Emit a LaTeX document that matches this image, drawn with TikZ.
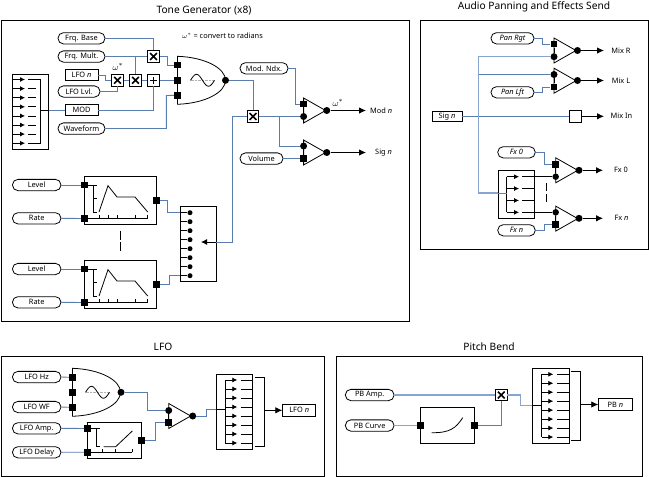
\documentclass[tikz,border=0pt]{standalone}
\usepackage{fontspec}
\setmainfont{Noto Sans}
\usetikzlibrary{arrows.meta}
\definecolor{wireblue}{HTML}{5A7DB0}
\definecolor{wirepale}{HTML}{86A5D0}
\newcommand{\lbl}{\fontsize{7.4}{9}\selectfont}
\newcommand{\ttl}{\fontsize{10.2}{12}\selectfont}
\newcommand{\omg}{\fontsize{9.5}{11}\selectfont}
\newcommand{\oscbody}[2]{%
  \begin{scope}[shift={(#1,#2)}]
    \draw[blk] (0,-24) .. controls (28,-23) and (48,-12) .. (48,0) .. controls (48,12) and (28,23) .. (0,24) -- cycle;
    \draw[gray!60,densely dotted,line width=.4pt] (13,0) -- (36,0);
    \draw[blk] (13,0) sin (19,-6) cos (25,0) sin (31,6) cos (37,0);
  \end{scope}}
\newcommand{\ampbody}[2]{\draw[blk] (#1,#2-12.5) -- (#1+22,#2) -- (#1,#2+12.5) -- cycle;}
\newcommand{\muxlines}[6]{% xstart, xtip, xlineend, ytop, dy, n-1
  \foreach \i in {0,...,#6}{
    \pgfmathsetmacro{\yy}{#4+\i*#5}
    \draw[blk,-{Latex[length=5pt,width=5pt]}] (#1,\yy) -- (#2,\yy);
    \draw[blk] (#2+3.3,\yy) -- (#3,\yy);
  }}
\newcommand{\envbody}[2]{%
  \begin{scope}[shift={(#1,#2)}]
    \draw[blk] (0,0) -- (12,0) (9,0) -- (9,27.5) -- (12.5,27.5) (9,13.5) -- (12,13.5);
    \draw[blk] (0,33.3) -- (63.2,33.3);
    \foreach \t in {14.5,23.5,32.5,50.5,63.2} \draw[blk] (\t,33.3) -- (\t,30);
    \draw[blk] (14.5,27) -- (23.5,.7) -- (32.5,12) -- (50.5,12) -- (63.2,27);
  \end{scope}}
\tikzset{
  x=1pt,y=-1pt,
  blk/.style={draw=black,line width=.8pt},
  wire/.style={draw=wireblue,line width=.9pt},
  wirep/.style={draw=wirepale,line width=1.4pt},
  frame/.style={draw=black,line width=.9pt},
  oval/.style={draw=black,line width=.8pt,fill=white,rounded corners=5.5pt,minimum height=11.3pt,inner sep=0pt,font=\lbl},
  lbox/.style={draw=black,line width=.8pt,fill=white,minimum height=11.3pt,inner sep=0pt,font=\lbl},
  sq/.style={fill=black,draw=none,minimum size=6.8pt,inner sep=0pt},
  dot/.style={circle,fill=black,draw=none,minimum size=7pt,inner sep=0pt},
  mdot/.style={circle,fill=black,draw=none,minimum size=5pt,inner sep=0pt},
  txt/.style={font=\lbl,inner sep=0pt},
  title/.style={font=\ttl,inner sep=0pt},
  mul/.style={draw=black,line width=.8pt,fill=white,minimum size=11.5pt,inner sep=0pt,
    path picture={\draw[line width=1.5pt] ([xshift=-3.4pt,yshift=-3.4pt]path picture bounding box.center) -- ([xshift=3.4pt,yshift=3.4pt]path picture bounding box.center) ([xshift=-3.4pt,yshift=3.4pt]path picture bounding box.center) -- ([xshift=3.4pt,yshift=-3.4pt]path picture bounding box.center);}},
  add/.style={draw=black,line width=.8pt,fill=white,minimum size=11.5pt,inner sep=0pt,
    path picture={\draw[line width=1.3pt] ([xshift=-3.4pt]path picture bounding box.center) -- ([xshift=3.4pt]path picture bounding box.center) ([yshift=-3.4pt]path picture bounding box.center) -- ([yshift=3.4pt]path picture bounding box.center);}},
  outarrow/.style={blk,-{Latex[length=7pt,width=6.5pt]}},
}
\begin{document}
\begin{tikzpicture}
\useasboundingbox (0,0) rectangle (649,477);
\fill[white] (0,0) rectangle (649,477);
% ---------- frames and titles
\node[frame,minimum width=408pt,minimum height=301pt,inner sep=0pt] (fTone) at (205,170.5) {};
\node[frame,minimum width=227.3pt,minimum height=229pt,inner sep=0pt] (fPan) at (534.4,134.5) {};
\node[frame,minimum width=323.7pt,minimum height=119.3pt,inner sep=0pt] (fLfo) at (162.9,416.4) {};
\node[frame,minimum width=306.7pt,minimum height=119.3pt,inner sep=0pt] (fPb) at (489.4,416.4) {};
\node[title] (tTone) at (204,11) {Tone Generator (x8)};
\node[title] (tPan) at (534,7) {Audio Panning and Effects Send};
\node[title] (tLfo) at (163,347) {LFO};
\node[title] (tPb) at (489,347) {Pitch Bend};
\node[txt] (nOmega) at (222.5,36) {$\omega^{*}$ = convert to radians};
% ---------- tone generator: inputs
\node[oval,minimum width=47pt] (frqbase) at (81.5,38.3) {Frq. Base};
\node[oval,minimum width=47pt] (frqmult) at (81.5,56.5) {Frq. Mult.};
\node[lbox,minimum width=33pt,minimum height=10.5pt] (lfon) at (81.5,75) {LFO \textit{n}};
\node[oval,minimum width=42pt] (lfolvl) at (79,91.5) {LFO Lvl.};
\node[lbox,minimum width=33pt] (mod) at (81.5,110) {MOD};
\node[oval,minimum width=47pt] (wavef) at (81.5,128.5) {Waveform};
\node[mul] (mulA) at (153.5,56.5) {};
\node[mul] (mulB) at (117.5,80.3) {};
\node[mul] (mulC) at (135.5,80.3) {};
\node[add] (addA) at (153.5,80.3) {};
\node[inner sep=0pt,font=\omg] (wA) at (118,66.5) {$\omega^{*}$};
% left mux
\node[draw=black,line width=.8pt,minimum width=36pt,minimum height=75pt,inner sep=0pt] (muxL) at (30.7,111.7) {};
\muxlines{12.7}{25}{36}{79.5}{9.1}{7}
\draw[blk] (36,79.5) -- (40,79.5) -- (40,143.2) -- (36,143.2);
\coordinate (muxLout) at (40,110);
% oscillator
\oscbody{177.5}{80.3}
\node[sq] (oA) at (177.5,65) {};
\node[sq] (oB) at (177.5,80.3) {};
\node[sq] (oC) at (177.5,95.3) {};
\node[dot] (oOut) at (225.5,80.3) {};
% envelopes
\node[draw=black,line width=.8pt,minimum width=71.5pt,minimum height=48pt,inner sep=0pt] (envA) at (120.3,200) {};
\envbody{84.5}{185}
\node[draw=black,line width=.8pt,minimum width=71.5pt,minimum height=48pt,inner sep=0pt] (envB) at (120.3,284) {};
\envbody{84.5}{269}
\node[oval,minimum width=48.5pt] (levA) at (36.7,185) {Level};
\node[oval,minimum width=48.5pt] (ratA) at (36.7,218.3) {Rate};
\node[oval,minimum width=48.5pt] (levB) at (36.7,269) {Level};
\node[oval,minimum width=48.5pt] (ratB) at (36.7,302.3) {Rate};
\node[sq] (eAa) at (84.5,185) {};
\node[sq] (eAb) at (84.5,218.5) {};
\node[sq] (eAo) at (156.3,200.3) {};
\node[sq] (eBa) at (84.5,269) {};
\node[sq] (eBb) at (84.5,302.5) {};
\node[sq] (eBo) at (156.3,284.3) {};
\draw[blk] (120.7,230.5) -- (120.7,239.5) (120.7,242) -- (120.7,250.5);
% right mux
\node[draw=black,line width=.8pt,fill=white,minimum width=36pt,minimum height=74.6pt,inner sep=0pt] (muxR) at (198,244) {};
\foreach \i in {0,...,7}{
  \pgfmathsetmacro{\yy}{212.7+\i*9}
  \node[mdot] (mr\i) at (190,\yy) {};
  \draw[blk] (180,\yy) -- (mr\i);
}
\coordinate (muxRarrow) at (201,242);
\coordinate (muxRin) at (180,212.7);
\coordinate (muxRinB) at (180,275.7);
% multiplier and amps
\node[mul] (mulD) at (253,116.5) {};
\ampbody{303.6}{110.5}
\node[sq] (aAa) at (303.6,104) {};
\node[dot] (aAb) at (303.6,116.5) {};
\draw[blk] (aAa) -- (aAb);
\node[dot] (aAo) at (326.8,110.5) {};
\ampbody{303.6}{152.5}
\node[dot] (aBa) at (303.6,146) {};
\node[sq] (aBb) at (303.6,158.5) {};
\draw[blk] (aBa) -- (aBb);
\node[dot] (aBo) at (326.8,152.5) {};
\node[oval,minimum width=48pt] (modndx) at (264,68.3) {Mod. Ndx.};
\node[oval,minimum width=43pt] (volume) at (261.5,158.5) {Volume};
\node[txt,anchor=west] (modn) at (370,110.5) {Mod \textit{n}};
\node[txt,anchor=west] (sign) at (375,152.5) {Sig \textit{n}};
\node[inner sep=0pt,font=\omg] (wB) at (338,102.5) {$\omega^{*}$};
\coordinate (aAe) at (366,110.5);
\coordinate (aBe) at (366,152.5);
% tone wires
\draw[wire] (frqbase.east) -| (mulA.north);
\draw[wire] (frqmult.east) -- (mulA.west);
\draw[wire] (frqmult.east) -| (mulC.north);
\draw[wire] (mulA.east) -- ++(7.5,0) |- (oA.west);
\draw[wire] (lfon.east) -- ++(7,0) |- (mulB.west);
\draw[wire] (lfolvl.east) -| (mulB.south);
\draw[wire] (mulB.east) -- (mulC.west);
\draw[wire] (mulC.east) -- (addA.west);
\draw[wire] (addA.east) -- (oB.west);
\draw[wire] (mod.east) -| (addA.south);
\draw[wire] (wavef.east) -| ++(61,-33) -- (oC.west);
\draw[blk] (muxLout) -- (muxL.east |- muxLout);
\draw[wire] (muxL.east |- muxLout) -- (mod.west);
\draw[wire] (oOut.east) -| (mulD.north);
\draw[wire] (levA.east) -- (eAa.west);
\draw[wire] (ratA.east) -- (eAb.west);
\draw[wire] (levB.east) -- (eBa.west);
\draw[wire] (ratB.east) -- (eBb.west);
\draw[wire] (eAo.east) -- ++(8,0) |- (muxRin);
\draw[wire] (eBo.east) -- ++(10,0) |- (muxRinB);
\draw[wire] (mulD.west) -- (232,116.5) |- (muxR.east |- muxRarrow);
\draw[blk,-{Latex[length=6pt,width=6pt]}] (muxR.east |- muxRarrow) -- (muxRarrow);
\draw[wire] (mulD.east) -- (aAb.west);
\draw[wire] (279,116.5) |- (aBa.west);
\draw[wire] (modndx.east) -- ++(7,0) |- (aAa.west);
\draw[wire] (volume.east) -- (aBb.west);
\draw[outarrow] (aAo) -- (aAe);
\draw[outarrow] (aBo) -- (aBe);
% ---------- audio panning
\node[oval,minimum width=43pt,font=\lbl\itshape] (panr) at (512.5,38.3) {Pan Rgt};
\node[oval,minimum width=43pt,font=\lbl\itshape] (panl) at (512.5,92.3) {Pan Lft};
\node[lbox,minimum width=30pt,minimum height=10.7pt] (sigin) at (447,116.3) {Sig \textit{n}};
\ampbody{554}{50.5}
\node[sq] (pRa) at (554,44) {};
\node[dot] (pRb) at (554,56.7) {};
\draw[blk] (pRa) -- (pRb);
\node[dot] (pRo) at (577.5,50.5) {};
\ampbody{554}{80.7}
\node[dot] (pLa) at (554,74.5) {};
\node[sq] (pLb) at (554,87) {};
\draw[blk] (pLa) -- (pLb);
\node[dot] (pLo) at (577.5,80.5) {};
\node[draw=black,line width=.8pt,minimum size=12pt,inner sep=0pt] (mixbox) at (575,116.3) {};
\node[txt] (mixr) at (621,50.5) {Mix R};
\node[txt] (mixl) at (621,80.5) {Mix L};
\node[txt] (mixin) at (621.5,116) {Mix In};
\coordinate (eR) at (604,50.5);
\coordinate (eL) at (604,80.5);
\coordinate (eI) at (604,116.3);
\coordinate (eF0) at (603,170.3);
\coordinate (eFn) at (603,218.3);
\draw[outarrow] (pRo) -- (eR);
\draw[outarrow] (pLo) -- (eL);
\draw[outarrow] (mixbox.east) -- (eI);
\draw[wire] (panr.east) -- ++(8,0) |- (pRa.west);
\draw[wire] (panl.east) -- ++(8,0) |- (pLb.west);
\draw[wire] (sigin.east) -- (mixbox.west);
% fx
\node[draw=black,line width=.8pt,minimum width=36pt,minimum height=48pt,inner sep=0pt] (muxF) at (516,194) {};
\draw[blk] (506.7,176.7) -- (506.7,212.3);
\muxlines{506.7}{519}{534}{176.7}{11.87}{3}
\ampbody{555.7}{170.3}
\node[sq] (fAa) at (555.7,164.3) {};
\node[dot,minimum size=6.5pt] (fAb) at (555.7,176.7) {};
\draw[blk] (fAa) -- (fAb);
\node[dot] (fAo) at (579,170.3) {};
\ampbody{555.7}{218.6}
\node[dot,minimum size=6.5pt] (fBa) at (555.7,212.3) {};
\node[sq] (fBb) at (555.7,224.6) {};
\draw[blk] (fBa) -- (fBb);
\node[dot] (fBo) at (579,218.3) {};
\draw[blk] (546.7,183) -- (546.7,191) (546.7,194) -- (546.7,201.7);
\node[oval,minimum width=37.5pt,font=\lbl\itshape] (fx0in) at (516.5,152.3) {Fx 0};
\node[oval,minimum width=37.5pt,font=\lbl\itshape] (fxnin) at (516.5,230.3) {Fx n};
\node[txt] (fx0) at (621,170.3) {Fx 0};
\node[txt] (fxn) at (621.5,218.3) {Fx \textit{n}};
\draw[outarrow] (fAo) -- (eF0);
\draw[outarrow] (fBo) -- (eFn);
\draw[wire] (fx0in.east) -- ++(9,0) |- (fAa.west);
\draw[wire] (fxnin.east) -- ++(9,0) |- (fBb.west);
\coordinate (muxFmid) at (506.7,193);
\draw[blk] (534,176.7) -- (fAb.west);
\draw[blk] (534,212.3) -- (fBa.west);
\draw[draw=gray,line width=1pt] (muxF.west |- muxFmid) -- (muxFmid);
\coordinate (busTop) at (478.7,56.7);
\draw[wirep] (pRb.west) -- (busTop) -- (478.7,193) -- (muxF.west |- muxFmid);
\draw[wire] (478.7,74.5) -- (pLa.west);
% ---------- LFO
\node[oval,minimum width=48.5pt] (lhz) at (36.7,377) {LFO Hz};
\node[oval,minimum width=48.5pt] (lwf) at (36.7,407) {LFO WF};
\node[oval,minimum width=48.5pt] (lamp) at (36.7,428.3) {LFO Amp.};
\node[oval,minimum width=48.5pt] (ldel) at (36.7,452.3) {LFO Delay};
\oscbody{72.5}{392.3}
\node[sq] (lA) at (72.5,377.3) {};
\node[sq] (lB) at (72.5,392.3) {};
\node[sq] (lC) at (72.5,407.3) {};
\node[dot] (lO) at (121,392.3) {};
\draw[blk] (lA) -- (lC);
\node[draw=black,line width=.8pt,minimum width=54pt,minimum height=35.6pt,inner sep=0pt] (lenv) at (114.7,440.5) {};
\node[sq] (lEa) at (87.7,428.5) {};
\node[sq] (lEb) at (87.7,452.2) {};
\node[sq] (lEo) at (141.7,440.4) {};
\draw[blk] (87.7,428.7) -- (100,428.7) (96.7,428.7) -- (96.7,446.5) -- (100,446.5);
\draw[blk] (87.7,452.2) -- (132.3,452.2) (102.7,452.2) -- (102.7,449) (115.7,452.2) -- (115.7,449) (132.3,452.2) -- (132.3,449);
\draw[blk] (103.5,446.7) -- (115.7,446.7) -- (132.3,431);
\ampbody{168.7}{416}
\node[dot] (lAa) at (168.7,410.5) {};
\node[sq] (lAb) at (168.7,422.3) {};
\draw[blk] (lAa) -- (lAb);
\node[dot] (lAo) at (192.7,416) {};
\node[draw=black,line width=.8pt,minimum width=36.7pt,minimum height=74.6pt,inner sep=0pt] (lmux) at (234.4,411.7) {};
\draw[blk] (225.3,380) -- (225.3,443);
\muxlines{225.3}{237.3}{252.7}{380}{9}{7}
\coordinate (lmuxIn) at (225.3,409);
\draw[blk] (lmux.west |- lmuxIn) -- (lmuxIn);
\draw[blk] (255.3,377.3) -- (264.3,377.3) -- (264.3,446.3) -- (255.3,446.3);
\coordinate (lbrk) at (264.3,410.3);
\node[lbox,minimum width=33pt,minimum height=12pt] (lfoout) at (299.2,410.3) {LFO \textit{n}};
\draw[outarrow] (lbrk) -- (lfoout.west);
\draw[wire] (lhz.east) -- (lA.west);
\draw[wire] (lwf.east) -- (lC.west);
\draw[wire] (lamp.east) -- (lEa.west);
\draw[wire] (ldel.east) -- (lEb.west);
\draw[wire] (lO.east) -- ++(23,0) |- (lAa.west);
\draw[wire] (lEo.east) -- ++(10,0) |- (lAb.west);
\draw[wire] (lAo.east) -- ++(10,0) |- (lmux.west |- lmuxIn);
% ---------- Pitch bend
\node[oval,minimum width=48.7pt] (pbamp) at (369.7,395) {PB Amp.};
\node[oval,minimum width=48.7pt] (pbcurve) at (369.7,425.5) {PB Curve};
\node[mul] (pbmul) at (501.3,395) {};
\node[draw=black,line width=.8pt,minimum width=54.4pt,minimum height=36.3pt,inner sep=0pt] (pbenv) at (447.5,425.2) {};
\draw[blk] (431.7,432.7) .. controls (450,433) and (456,428) .. (462.7,417.7);
\node[sq] (pbEa) at (420.3,425.5) {};
\node[sq] (pbEb) at (474.7,425.5) {};
\node[draw=black,line width=.8pt,minimum width=36.6pt,minimum height=75pt,inner sep=0pt] (pbmux) at (551,405.8) {};
\draw[blk] (541.7,374.3) -- (541.7,437);
\muxlines{541.7}{553.3}{569.3}{374.3}{8.96}{7}
\coordinate (pbmuxIn) at (541.7,405.7);
\draw[blk] (pbmux.west |- pbmuxIn) -- (pbmuxIn);
\draw[blk] (571,371) -- (580.7,371) -- (580.7,440.3) -- (571,440.3);
\coordinate (pbbrk) at (580.7,404.5);
\node[lbox,minimum width=33.3pt,minimum height=12.3pt] (pbout) at (615.3,404.5) {PB \textit{n}};
\draw[outarrow] (pbbrk) -- (pbout.west);
\draw[wirep,line width=1.1pt] (pbamp.east) -- (pbmul.west);
\draw[wirep,line width=1.1pt] (pbcurve.east) -- (pbEa.west);
\draw[wire] (pbEb.east) -| (pbmul.south);
\draw[wirep,line width=1.1pt] (pbmul.east) -- ++(13,0) |- (pbmux.west |- pbmuxIn);
\end{tikzpicture}
\end{document}
